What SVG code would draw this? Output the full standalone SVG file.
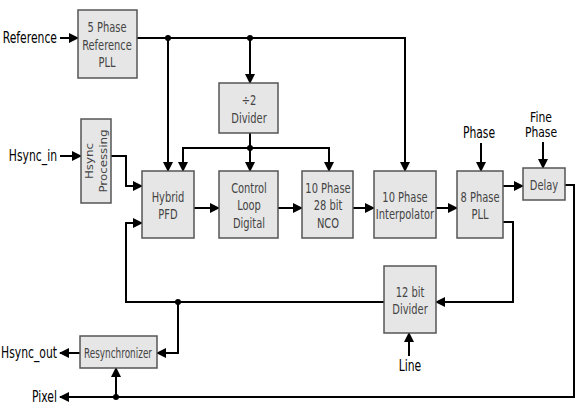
<svg xmlns="http://www.w3.org/2000/svg" width="579" height="408" viewBox="0 0 579 408">
<defs>
<marker id="ah" markerWidth="10" markerHeight="10" refX="9" refY="5" orient="auto" markerUnits="userSpaceOnUse">
<path d="M0,0 L10,5 L0,10 z" fill="#000"/>
</marker>
<style>
.box{fill:#e6e6e6;stroke:#555;stroke-width:1.5}
.in{font-family:"DejaVu Sans Condensed","DejaVu Sans",sans-serif;font-stretch:condensed;font-size:11px;fill:#444;text-anchor:middle}
.lbl{font-family:"DejaVu Sans Condensed","DejaVu Sans",sans-serif;font-stretch:condensed;font-size:12px;fill:#000}
.r{text-anchor:end}
.c{text-anchor:middle}
.w{fill:none;stroke:#000;stroke-width:2}
.a{marker-end:url(#ah)}
</style>
</defs>
<rect width="579" height="408" fill="#fff"/>
<g id="connectors">
<path class="w a" d="M60,38 H78"/>
<path class="w a" d="M137,38 H405 V171"/>
<path class="w a" d="M168,38 V171"/>
<path class="w a" d="M250,38 V83"/>
<path class="w a" d="M60,156 H81"/>
<path class="w a" d="M111,156 H126 V186 H142"/>
<path class="w a" d="M250,133 V171"/>
<path class="w a" d="M250,148 H183 V171"/>
<path class="w a" d="M250,148 H329 V171"/>
<path class="w a" d="M194,208 H219"/>
<path class="w a" d="M278,208 H302"/>
<path class="w a" d="M353,208 H374"/>
<path class="w a" d="M436,208 H457"/>
<path class="w a" d="M481,143 V171"/>
<path class="w a" d="M543,142 V168"/>
<path class="w a" d="M503,186 H523"/>
<path class="w a" d="M503,222 H513 V302 H436"/>
<path class="w a" d="M384,302 H126 V223 H142"/>
<path class="w a" d="M178,302 V353 H157"/>
<path class="w a" d="M80,353 H60"/>
<path class="w a" d="M409,356 V333"/>
<path class="w a" d="M565,185 H574 V397 H60"/>
<path class="w a" d="M116,397 V368"/>
<circle cx="168" cy="38" r="3"/>
<circle cx="250" cy="38" r="3"/>
<circle cx="250" cy="148" r="3"/>
<circle cx="178" cy="302" r="3"/>
<circle cx="116" cy="397" r="3"/>
</g>
<g id="labels">
<text class="lbl r" transform="translate(57,43) scale(1,1.25)">Reference</text>
<text class="lbl r" transform="translate(57,161) scale(1,1.25)">Hsync_in</text>
<text class="lbl r" transform="translate(57,358) scale(1,1.25)">Hsync_out</text>
<text class="lbl r" transform="translate(57,402) scale(1,1.25)">Pixel</text>
<text class="lbl c" transform="translate(479,138) scale(1,1.25)">Phase</text>
<text class="lbl c" transform="translate(541,122) scale(1,1.2)"><tspan x="0" y="0">Fine</tspan><tspan x="0" y="12.5">Phase</tspan></text>
<text class="lbl c" transform="translate(410,371) scale(1,1.25)">Line</text>
</g>
<g id="ref_pll"><rect class="box" x="78" y="10" width="59" height="68"/>
<text class="in" transform="translate(107,32) scale(1,1.3)"><tspan x="0" y="0">5 Phase</tspan><tspan x="0" y="13.6">Reference</tspan><tspan x="0" y="27">PLL</tspan></text></g>
<g id="div2"><rect class="box" x="219" y="83" width="59" height="50"/>
<text class="in" transform="translate(249,105) scale(1,1.3)"><tspan x="0" y="0">÷2</tspan><tspan x="0" y="13.6">Divider</tspan></text></g>
<g id="hsync_proc"><rect class="box" x="81" y="119" width="30" height="84"/>
<text class="in" transform="translate(96,161) rotate(-90) scale(1.2,1)"><tspan x="0" y="-3">Hsync</tspan><tspan x="0" y="11">Processing</tspan></text></g>
<g id="pfd"><rect class="box" x="142" y="171" width="52" height="67"/>
<text class="in" transform="translate(168,202) scale(1,1.3)"><tspan x="0" y="0">Hybrid</tspan><tspan x="0" y="13.2">PFD</tspan></text></g>
<g id="ctrl"><rect class="box" x="219" y="171" width="59" height="67"/>
<text class="in" transform="translate(249,193) scale(1,1.3)"><tspan x="0" y="0">Control</tspan><tspan x="0" y="13.4">Loop</tspan><tspan x="0" y="26.6">Digital</tspan></text></g>
<g id="nco"><rect class="box" x="302" y="171" width="51" height="67"/>
<text class="in" transform="translate(328,193) scale(1,1.3)"><tspan x="0" y="0">10 Phase</tspan><tspan x="0" y="13.4">28 bit</tspan><tspan x="0" y="26.6">NCO</tspan></text></g>
<g id="interp"><rect class="box" x="374" y="171" width="62" height="67"/>
<text class="in" transform="translate(405,202) scale(1,1.3)"><tspan x="0" y="0">10 Phase</tspan><tspan x="0" y="13.2">Interpolator</tspan></text></g>
<g id="pll8"><rect class="box" x="457" y="171" width="46" height="67"/>
<text class="in" transform="translate(480,202) scale(1,1.3)"><tspan x="0" y="0">8 Phase</tspan><tspan x="0" y="13.2">PLL</tspan></text></g>
<g id="delay"><rect class="box" x="523" y="168" width="42" height="32"/>
<text class="in" transform="translate(544,190) scale(1,1.3)">Delay</text></g>
<g id="div12"><rect class="box" x="384" y="266" width="52" height="67"/>
<text class="in" transform="translate(410,297) scale(1,1.3)"><tspan x="0" y="0">12 bit</tspan><tspan x="0" y="13.2">Divider</tspan></text></g>
<g id="resync"><rect class="box" x="80" y="336" width="77" height="32"/>
<text class="in" transform="translate(118,358) scale(1,1.3)" textLength="68" lengthAdjust="spacingAndGlyphs">Resynchronizer</text></g>
</svg>
